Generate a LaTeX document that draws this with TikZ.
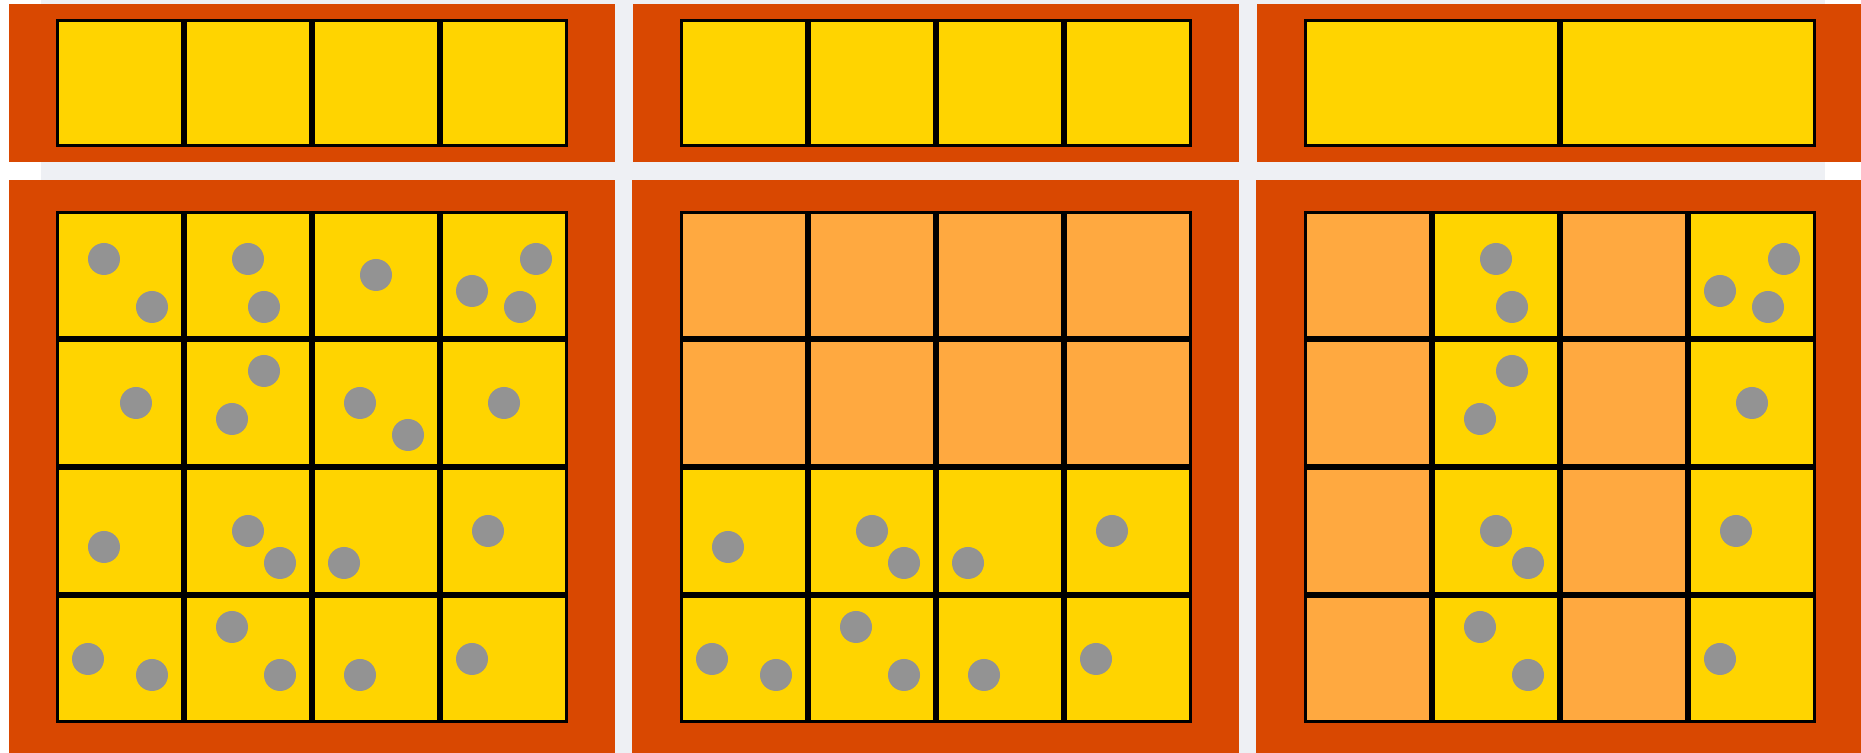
\documentclass[tikz,border=0pt]{standalone}
\usepackage{xcolor}
\usepackage{tikz}
\definecolor{rust}   {HTML}{D94801}
\definecolor{gold}   {HTML}{FFD400}
\definecolor{apricot}{HTML}{FFA940}
\definecolor{pebble} {HTML}{939393}
\definecolor{mist}   {HTML}{EEF0F4}

\begin{document}
\begin{tikzpicture}[x=0.16cm,y=0.16cm,
  cell/.style={draw=black,line width=0.8pt,inner sep=0pt,outer sep=0pt,minimum size=1.25cm},
  full/.style={cell,fill=gold},
  dim/.style={cell,fill=apricot},
  wide/.style={full,minimum width=2.53cm},
  pip/.style={fill=pebble}]
\useasboundingbox (-3.5,-1.875) rectangle (112.8125,45.1875);
\fill[mist] (-0.9375,-1.875) rectangle (110.5625,45.1875);
\fill[rust] (-2.9375,35.0625) rectangle (34.9375,44.9375);
\fill[rust] (36.0625,35.0625) rectangle (73.9375,44.9375);
\fill[rust] (75.0625,35.0625) rectangle (112.9375,44.9375);
\fill[rust] (-2.9375,-1.875) rectangle (34.9375,33.9375);
\fill[rust] (36,-1.875) rectangle (73.9375,33.9375);
\fill[rust] (75,-1.875) rectangle (112.9375,33.9375);
\node[full] (a01) at (4,40) {};
\node[full] (a02) at (12,40) {};
\node[full] (a03) at (20,40) {};
\node[full] (a04) at (28,40) {};
\node[full] (b01) at (43,40) {};
\node[full] (b02) at (51,40) {};
\node[full] (b03) at (59,40) {};
\node[full] (b04) at (67,40) {};
\node[wide] (c01) at (86,40) {};
\node[wide] (c02) at (102,40) {};
\node[full] (a11) at (4,28) {};
\node[full] (a12) at (12,28) {};
\node[full] (a13) at (20,28) {};
\node[full] (a14) at (28,28) {};
\node[full] (a21) at (4,20) {};
\node[full] (a22) at (12,20) {};
\node[full] (a23) at (20,20) {};
\node[full] (a24) at (28,20) {};
\node[full] (a31) at (4,12) {};
\node[full] (a32) at (12,12) {};
\node[full] (a33) at (20,12) {};
\node[full] (a34) at (28,12) {};
\node[full] (a41) at (4,4) {};
\node[full] (a42) at (12,4) {};
\node[full] (a43) at (20,4) {};
\node[full] (a44) at (28,4) {};
\node[dim] (b11) at (43,28) {};
\node[dim] (b12) at (51,28) {};
\node[dim] (b13) at (59,28) {};
\node[dim] (b14) at (67,28) {};
\node[dim] (b21) at (43,20) {};
\node[dim] (b22) at (51,20) {};
\node[dim] (b23) at (59,20) {};
\node[dim] (b24) at (67,20) {};
\node[full] (b31) at (43,12) {};
\node[full] (b32) at (51,12) {};
\node[full] (b33) at (59,12) {};
\node[full] (b34) at (67,12) {};
\node[full] (b41) at (43,4) {};
\node[full] (b42) at (51,4) {};
\node[full] (b43) at (59,4) {};
\node[full] (b44) at (67,4) {};
\node[dim] (c11) at (82,28) {};
\node[full] (c12) at (90,28) {};
\node[dim] (c13) at (98,28) {};
\node[full] (c14) at (106,28) {};
\node[dim] (c21) at (82,20) {};
\node[full] (c22) at (90,20) {};
\node[dim] (c23) at (98,20) {};
\node[full] (c24) at (106,20) {};
\node[dim] (c31) at (82,12) {};
\node[full] (c32) at (90,12) {};
\node[dim] (c33) at (98,12) {};
\node[full] (c34) at (106,12) {};
\node[dim] (c41) at (82,4) {};
\node[full] (c42) at (90,4) {};
\node[dim] (c43) at (98,4) {};
\node[full] (c44) at (106,4) {};
\fill[pip] (3,29) circle[radius=1];
\fill[pip] (6,26) circle[radius=1];
\fill[pip] (12,29) circle[radius=1];
\fill[pip] (13,26) circle[radius=1];
\fill[pip] (20,28) circle[radius=1];
\fill[pip] (30,29) circle[radius=1];
\fill[pip] (26,27) circle[radius=1];
\fill[pip] (29,26) circle[radius=1];
\fill[pip] (5,20) circle[radius=1];
\fill[pip] (13,22) circle[radius=1];
\fill[pip] (11,19) circle[radius=1];
\fill[pip] (19,20) circle[radius=1];
\fill[pip] (22,18) circle[radius=1];
\fill[pip] (28,20) circle[radius=1];
\fill[pip] (3,11) circle[radius=1];
\fill[pip] (12,12) circle[radius=1];
\fill[pip] (14,10) circle[radius=1];
\fill[pip] (18,10) circle[radius=1];
\fill[pip] (27,12) circle[radius=1];
\fill[pip] (2,4) circle[radius=1];
\fill[pip] (6,3) circle[radius=1];
\fill[pip] (11,6) circle[radius=1];
\fill[pip] (14,3) circle[radius=1];
\fill[pip] (19,3) circle[radius=1];
\fill[pip] (26,4) circle[radius=1];
\fill[pip] (42,11) circle[radius=1];
\fill[pip] (51,12) circle[radius=1];
\fill[pip] (53,10) circle[radius=1];
\fill[pip] (57,10) circle[radius=1];
\fill[pip] (66,12) circle[radius=1];
\fill[pip] (41,4) circle[radius=1];
\fill[pip] (45,3) circle[radius=1];
\fill[pip] (50,6) circle[radius=1];
\fill[pip] (53,3) circle[radius=1];
\fill[pip] (58,3) circle[radius=1];
\fill[pip] (65,4) circle[radius=1];
\fill[pip] (90,29) circle[radius=1];
\fill[pip] (91,26) circle[radius=1];
\fill[pip] (91,22) circle[radius=1];
\fill[pip] (89,19) circle[radius=1];
\fill[pip] (90,12) circle[radius=1];
\fill[pip] (92,10) circle[radius=1];
\fill[pip] (89,6) circle[radius=1];
\fill[pip] (92,3) circle[radius=1];
\fill[pip] (108,29) circle[radius=1];
\fill[pip] (104,27) circle[radius=1];
\fill[pip] (107,26) circle[radius=1];
\fill[pip] (106,20) circle[radius=1];
\fill[pip] (105,12) circle[radius=1];
\fill[pip] (104,4) circle[radius=1];
\end{tikzpicture}
\end{document}
